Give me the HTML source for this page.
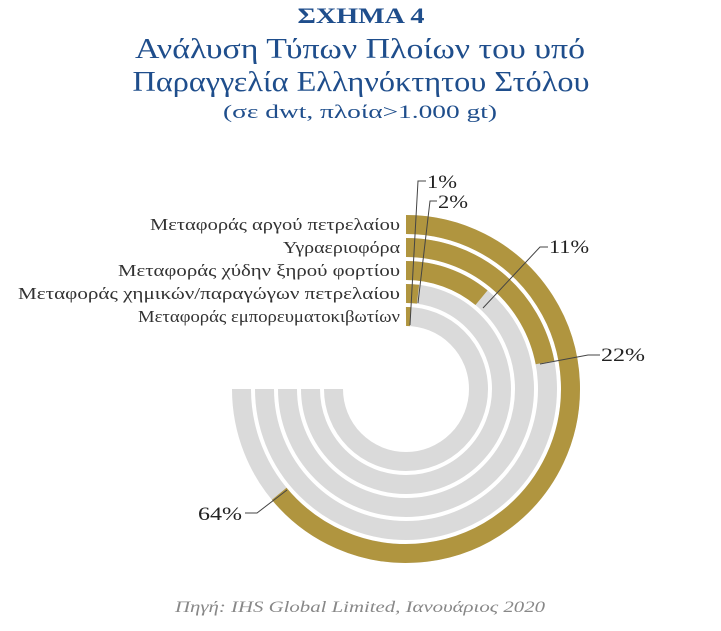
<!DOCTYPE html>
<html><head><meta charset="utf-8"><style>
body{margin:0;background:#fff;}
svg{display:block;font-family:"Liberation Serif","DejaVu Serif",serif;}
</style></head><body>
<svg width="721" height="631" viewBox="0 0 721 631" xmlns="http://www.w3.org/2000/svg">
<g fill="#1f4e8c" text-anchor="middle">
<text x="361" y="23" font-size="22" font-weight="bold" textLength="127" lengthAdjust="spacingAndGlyphs">ΣΧΗΜΑ 4</text>
<text x="360" y="58" font-size="28" textLength="450" lengthAdjust="spacingAndGlyphs">Ανάλυση Τύπων Πλοίων του υπό</text>
<text x="361" y="91" font-size="28" textLength="457" lengthAdjust="spacingAndGlyphs">Παραγγελία Ελληνόκτητου Στόλου</text>
<text x="360" y="118" font-size="19" textLength="274" lengthAdjust="spacingAndGlyphs">(σε dwt, πλοία&gt;1.000 gt)</text>
</g>
<g fill="none" stroke-width="19">
<path d="M406 224.5 A164.5 164.5 0 1 1 241.5 389" stroke="#dadada"/>
<path d="M406 247.5 A141.5 141.5 0 1 1 264.5 389" stroke="#dadada"/>
<path d="M406 270.5 A118.5 118.5 0 1 1 287.5 389" stroke="#dadada"/>
<path d="M406 293.5 A95.5 95.5 0 1 1 310.5 389" stroke="#dadada"/>
<path d="M406 316.5 A72.5 72.5 0 1 1 333.5 389" stroke="#dadada"/>
<path d="M406 224.5 A164.5 164.5 0 1 1 279.2 493.8" stroke="#b0953f"/>
<path d="M406 247.5 A141.5 141.5 0 0 1 545 362.5" stroke="#b0953f"/>
<path d="M406 270.5 A118.5 118.5 0 0 1 481.5 297.7" stroke="#b0953f"/>
<path d="M406 293.5 A95.5 95.5 0 0 1 418 294.2" stroke="#b0953f"/>
<path d="M406 316.5 A72.5 72.5 0 0 1 410.5 316.6" stroke="#b0953f"/>
</g>
<g fill="none" stroke="#444" stroke-width="1">
<path d="M287 490 L257 513 L245 513"/>
<path d="M540 364 L588 355 L600 355"/>
<path d="M483 308 L540 247 L548 247"/>
<path d="M418 303 L430 201 L437 201"/>
<path d="M410 325 L418 181 L426 181"/>
</g>
<g fill="#222" font-size="19">
<text x="427" y="188" textLength="30" lengthAdjust="spacingAndGlyphs">1%</text>
<text x="438" y="208" textLength="30" lengthAdjust="spacingAndGlyphs">2%</text>
<text x="549" y="253" textLength="40" lengthAdjust="spacingAndGlyphs">11%</text>
<text x="601" y="361" textLength="44" lengthAdjust="spacingAndGlyphs">22%</text>
<text x="198" y="520" textLength="44" lengthAdjust="spacingAndGlyphs">64%</text>
</g>
<g fill="#333" font-size="17" text-anchor="end">
<text x="400" y="230" textLength="250" lengthAdjust="spacingAndGlyphs">Μεταφοράς αργού πετρελαίου</text>
<text x="400" y="253" textLength="117" lengthAdjust="spacingAndGlyphs">Υγραεριοφόρα</text>
<text x="400" y="276" textLength="282" lengthAdjust="spacingAndGlyphs">Μεταφοράς χύδην ξηρού φορτίου</text>
<text x="400" y="299" textLength="382" lengthAdjust="spacingAndGlyphs">Μεταφοράς χημικών/παραγώγων πετρελαίου</text>
<text x="400" y="322" textLength="262" lengthAdjust="spacingAndGlyphs">Μεταφοράς εμπορευματοκιβωτίων</text>
</g>
<text x="360" y="612" font-size="16" font-style="italic" fill="#888" text-anchor="middle" textLength="370" lengthAdjust="spacingAndGlyphs">Πηγή: IHS Global Limited, Ιανουάριος 2020</text>
</svg>
</body></html>
